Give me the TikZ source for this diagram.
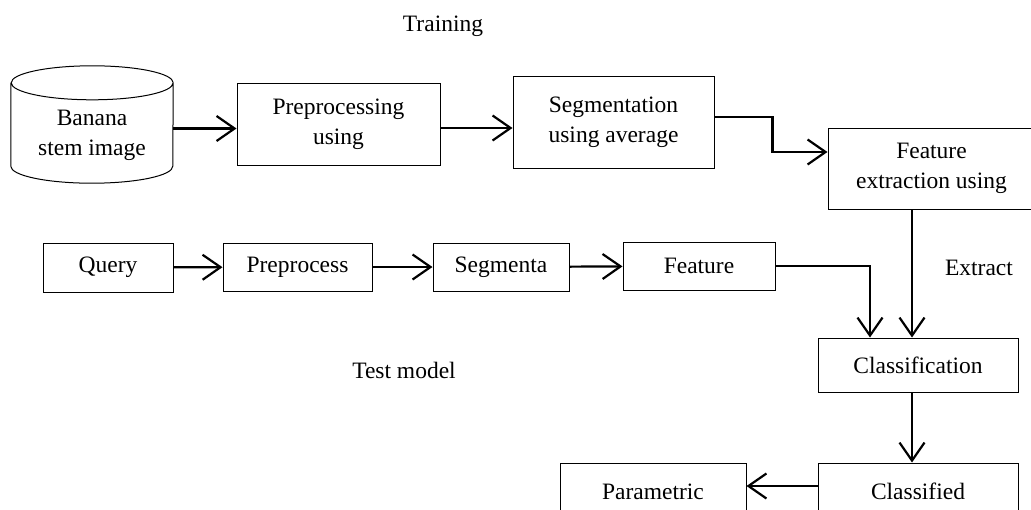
\documentclass[tikz,border=0pt]{standalone}
\usepackage{fontspec}
\setmainfont{Liberation Serif}
\usetikzlibrary{arrows.meta}

\begin{document}
\begin{tikzpicture}[x=1pt, y=-1pt,
		every node/.style={font=\fontsize{23.5}{30}\selectfont, align=center, inner sep=0pt},
		box/.style={draw, line width=1pt, rectangle},
		arr/.style={line width=2.2pt, -{Straight Barb[length=18pt, width=25pt, line width=2.2pt]}}]
			\useasboundingbox (0,0) rectangle (1031,509);
			\clip (0,0) rectangle (1031,509);
			
			\node[anchor=base] (train) at (443,31) {Training};
			% image store as a drum
			\node[minimum width=162pt, minimum height=117pt] (db) at (92,124.5) {};
			\draw[line width=1pt] ([yshift=-17pt]db.north west) -- ([yshift=17pt]db.south west)
				arc[start angle=180, end angle=360, x radius=81pt, y radius=17pt]
				-- ([yshift=-17pt]db.north east)
				arc[start angle=0, end angle=360, x radius=81pt, y radius=17pt];
			\node (dbtext) at ([yshift=-11pt]db.center) {Banana\\stem image};
			\node[box, minimum width=203pt, minimum height=82pt] (pre) at (338.5,124) {Preprocessing\\using};
			\node[box, minimum width=201pt, minimum height=92pt] (seg) at (613.5,122) {Segmentation\\using average};
			\node[box, minimum width=207pt, minimum height=81pt] (fex) at (931.5,168.5) {Feature\\extraction using};
			
			\node[box, minimum width=130pt, minimum height=49pt] (query) at (108,267.5) {Query};
			\node[box, minimum width=149pt, minimum height=48pt] (ppr) at (297.5,267) {Preprocess};
			\node[box, minimum width=136pt, minimum height=48pt] (sgm) at (501,267) {Segmenta};
			\node[box, minimum width=152pt, minimum height=48pt] (fea) at (699,266) {Feature};
			\node[anchor=base] (ext) at (979,275) {Extract};
			\node[anchor=base] (test) at (404,378) {Test model};
			
			\node[box, minimum width=200pt, minimum height=54pt] (cls) at (918,365) {Classification};
			\node[box, minimum width=200pt, minimum height=57pt] (clsd) at (918,491.5) {Classified};
			\node[box, minimum width=186pt, minimum height=57pt] (par) at (653,491.5) {Parametric};
			
			% training row
			\draw[arr] ([yshift=-4pt]db.east) -- ([yshift=-4pt]db.east -| pre.west);
			\draw[arr] ([yshift=-4pt]pre.east) -- ([yshift=-4pt]pre.east -| seg.west);
			\draw[arr] ([yshift=5pt]seg.east) -- ++(58,0) |- ([yshift=16.5pt]fex.west);
			\draw[arr] ([xshift=-19.5pt]fex.south) -- ([xshift=-19.5pt]fex.south |- cls.north);
			
			% test row
			\draw[arr] (query) -- (ppr);
			\draw[arr] (ppr) -- (sgm);
			\draw[arr] (sgm) -- (fea);
			\draw[arr, line width=1.3pt] (fea.east) -| ([xshift=-48pt]cls.north);
			
			\draw[arr] ([xshift=-6pt]cls.south) -- ([xshift=-6pt]clsd.north);
			\draw[arr] ([yshift=5.5pt]clsd.west) -- ([yshift=5.5pt]par.east);
		\end{tikzpicture}
\end{document}
